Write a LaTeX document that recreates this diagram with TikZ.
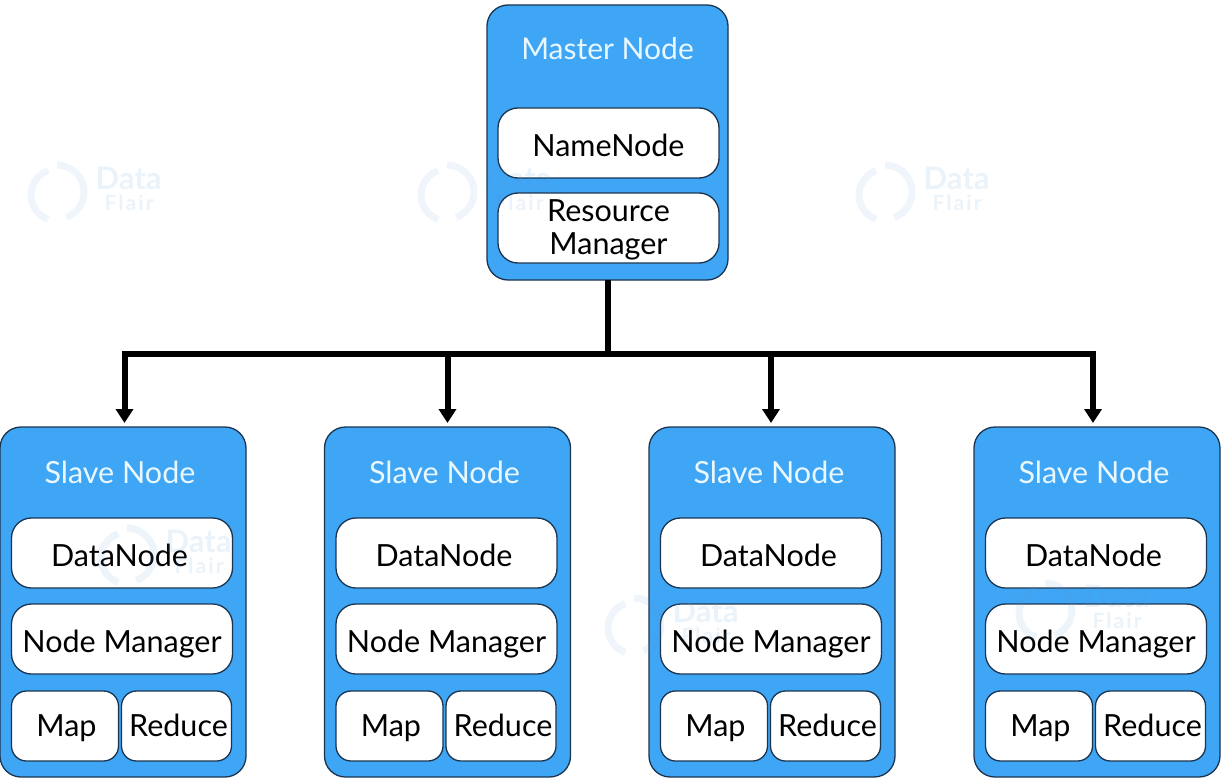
\documentclass[tikz,border=0pt]{standalone}
\usepackage{fontspec}
\setmainfont{Lato}
\usetikzlibrary{positioning,arrows.meta}

\tikzset{
  bluebox/.style={draw=boxline, fill=boxblue, rounded corners=21pt, line width=1.3pt,
    outer sep=0pt, inner sep=0pt},
  masterbox/.style={bluebox, minimum width=241pt, minimum height=275pt},
  slavebox/.style={bluebox, minimum width=246pt, minimum height=350pt},
  title/.style={text=titlewhite, font=\fontsize{30.5}{33}\selectfont},
  part/.style={draw=boxline, fill=white, rounded corners=20pt, line width=1.3pt, outer sep=0pt,
    inner sep=0pt, minimum width=221pt, minimum height=70pt, align=center,
    font=\fontsize{30.5}{33}\selectfont},
  onepart/.style={part, text height=27pt, text depth=0pt},
  halfpart/.style={part, rounded corners=15pt, minimum width=#1, text height=20pt, text depth=0pt},
  link/.style={line width=6pt, black},
  linkarrow/.style={link, -{Triangle[width=17pt,length=14pt]}, shorten >=4pt},
  marklogo/.style={line width=7pt, markblue, opacity=0.1},
  marktext/.style={markblue, opacity=0.12},
}
\definecolor{boxblue}{HTML}{3FA5F5}
\definecolor{boxline}{HTML}{1B3550}
\definecolor{titlewhite}{HTML}{E9F7FF}
\definecolor{markblue}{HTML}{5E9FD6}

\begin{document}
\begin{tikzpicture}[x=1pt, y=-1pt]
  \useasboundingbox (0,0) rectangle (1222,778);

  % master
  \node [masterbox] (master) at (607.5,142.5) {};
  \node [title, font=\fontsize{30}{33}\selectfont] (mastertitle) at ([yshift=-44pt]master.north) {Master Node};
  \node [onepart, below=103pt of master.north, xshift=1pt] (namenode) {NameNode};
  \node [part, below=15pt of namenode] (resource) {\rule{0pt}{25pt}Resource\\Manager};

  % slaves
  \foreach \i/\x in {1/123, 2/447.5, 3/772, 4/1097} {
    \node [slavebox] (slave\i) at (\x,602) {};
    \node [title] (slavetitle\i) at ([xshift=-3pt,yshift=-45pt]slave\i.north) {Slave Node};
    \node [onepart, below=91pt of slave\i.north, xshift=-1pt] (data\i) {DataNode\hspace*{5pt}};
    \node [onepart, below=16pt of data\i] (manager\i) {Node Manager};
    \node [halfpart=107pt, below=17pt of manager\i.south west, anchor=north west] (map\i) {\hspace*{3pt}Map};
    \node [halfpart=110pt, right=3pt of map\i] (reduce\i) {\hspace*{4pt}Reduce};
  }

  % links
  \coordinate (bus) at (master.south |- 0,353.5);
  \draw [link] (master.south) -- (bus);
  \foreach \i/\tipx in {1/1.5, 2/0, 3/-1, 4/-4}
    \draw [linkarrow] (bus) -| ([xshift=\tipx pt]slave\i.north);

  % watermarks
  \foreach \n/\mx/\my in {a/57/195, b/447/195, c/885/195, d/127/558, e/634/628, f/1045/613} {
    \begin{scope}[shift={(\mx,\my)}]
      \draw [marklogo] (-8.9,24.4) arc (110:250:26);
      \draw [marklogo] (0,-30) arc (-90:70:27);
      \node [marktext, font=\bfseries\fontsize{31}{31}\selectfont, anchor=west] (markdata\n) at (35,-17) {Data};
      \node [marktext, font=\bfseries\fontsize{21}{21}\addfontfeature{LetterSpace=10}\selectfont, anchor=west] (markflair\n) at (44,8) {Flair};
    \end{scope}
  }
\end{tikzpicture}
\end{document}
